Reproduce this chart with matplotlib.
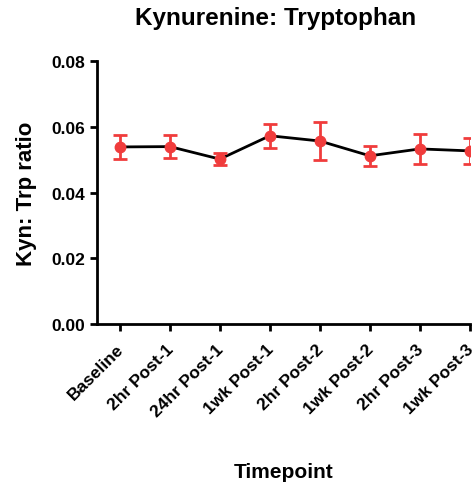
import numpy as np
import matplotlib.pyplot as plt
import matplotlib.transforms as mtransforms

plt.rcParams["font.family"] = ["Liberation Sans", "DejaVu Sans"]
plt.rcParams["font.weight"] = "bold"

# data
timepoints = ["Baseline", "2hr Post-1", "24hr Post-1", "1wk Post-1",
              "2hr Post-2", "1wk Post-2", "2hr Post-3", "1wk Post-3"]
ratio = [0.0539, 0.0540, 0.0502, 0.0573, 0.0557, 0.0512, 0.0533, 0.0527]
sem = [0.0036, 0.0034, 0.0018, 0.0036, 0.0057, 0.0031, 0.0046, 0.0040]

fig = plt.figure(figsize=(4.77, 4.89), dpi=100)
ax = fig.add_axes([0.203, 0.335, 0.782, 0.538])

x = np.arange(len(timepoints))
ax.plot(x, ratio, color="black", lw=2, zorder=2)
ax.errorbar(x, ratio, yerr=sem, fmt="o", color="#f03c3c", ms=7.5,
            elinewidth=2, capsize=5, capthick=2, zorder=3)

ax.set_xlim(-0.46, 7)
ax.set_ylim(0, 0.08)
ax.set_yticks([0, 0.02, 0.04, 0.06, 0.08])
ax.set_yticklabels(["0.00", "0.02", "0.04", "0.06", "0.08"])
ax.set_xticks(x)

for s in ["top", "right"]:
    ax.spines[s].set_visible(False)
for s in ["left", "bottom"]:
    ax.spines[s].set_linewidth(2)
ax.tick_params(width=2, length=5, labelsize=12.5)
ax.tick_params(axis="x", pad=7)

ax.set_xticklabels(timepoints, rotation=45, ha="right", rotation_mode="anchor")
# nudge the slanted labels a little left so they end under their ticks
shift = mtransforms.ScaledTranslation(-4 / 100, 0, fig.dpi_scale_trans)
for lab in ax.get_xticklabels():
    lab.set_transform(lab.get_transform() + shift)

ax.set_ylabel("Kyn: Trp ratio", fontsize=16, fontweight="bold", labelpad=10)
ax.set_xlabel("Timepoint", fontsize=15, fontweight="bold", labelpad=31)
ax.set_title("Kynurenine: Tryptophan", fontsize=17.5, fontweight="bold",
             pad=27, x=0.48)

fig.savefig("out.png", dpi=100)
